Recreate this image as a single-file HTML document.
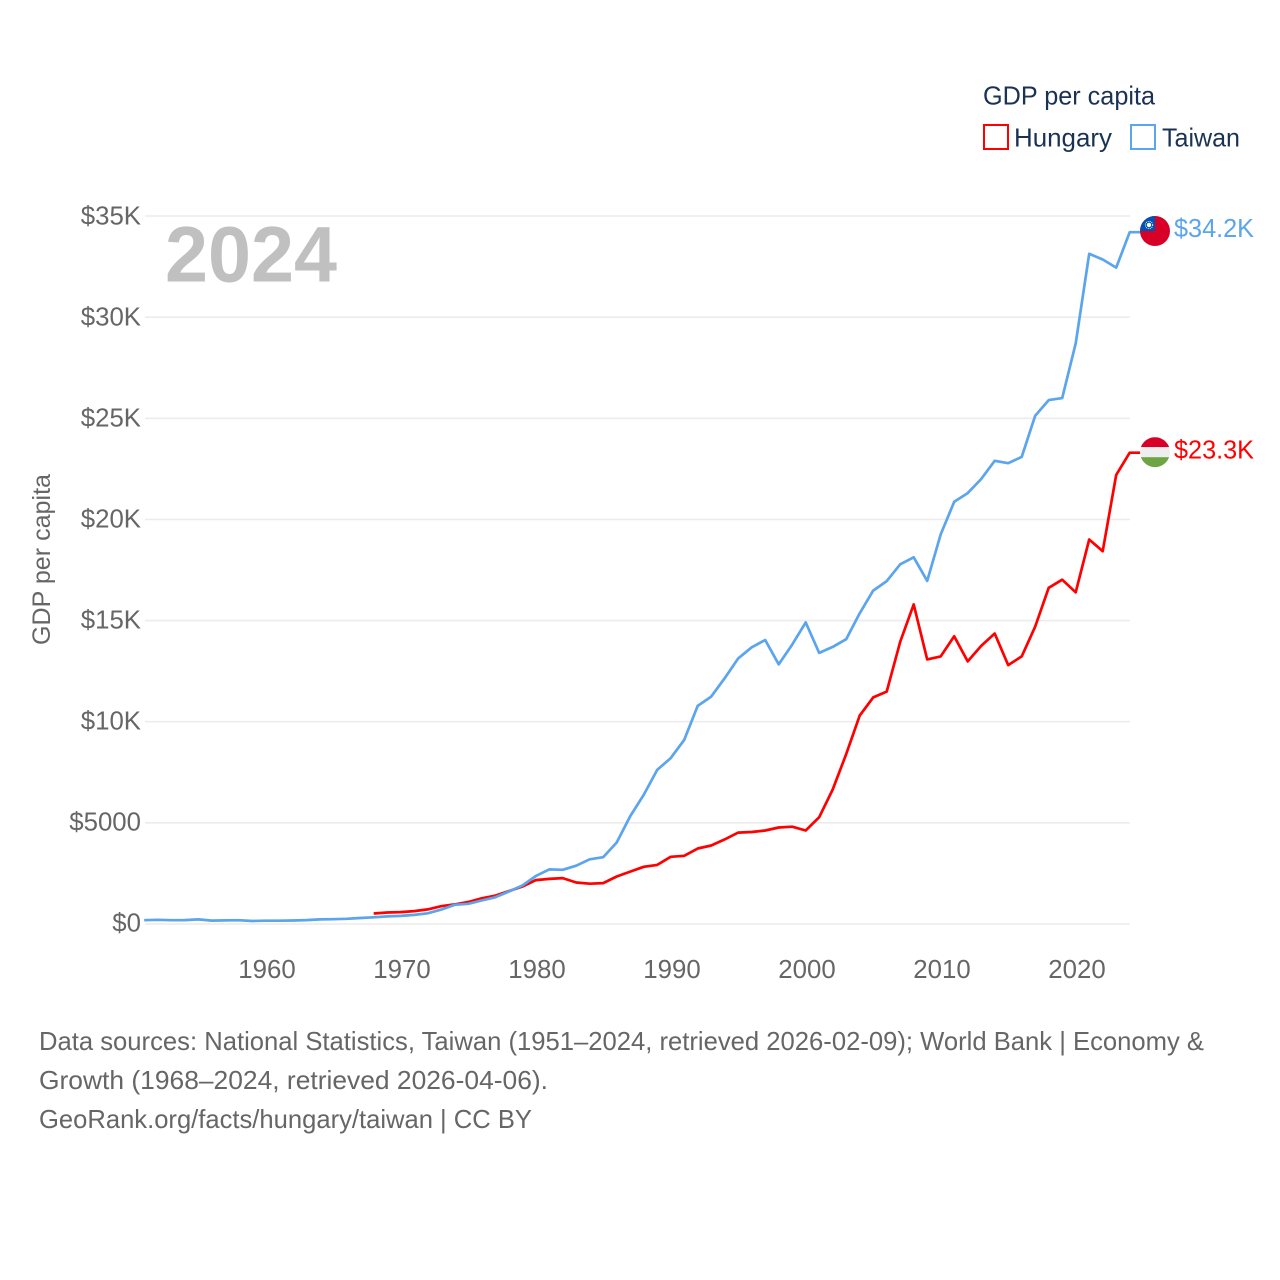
<!DOCTYPE html>
<html lang="en">
<head>
<meta charset="utf-8">
<title>GDP per capita: Hungary and Taiwan</title>
<style>
html,body{margin:0;padding:0;background:#fff;width:1280px;height:1280px;overflow:hidden}
svg{display:block;font-family:"Liberation Sans",sans-serif}
</style>
</head>
<body>
<svg id="chart" xmlns="http://www.w3.org/2000/svg" width="1280" height="1280" viewBox="0 0 1280 1280">
  <rect width="1280" height="1280" fill="#fff"/>
  <g>
    <text x="983" y="104.5" font-size="26" fill="#1a3353" textLength="172" lengthAdjust="spacingAndGlyphs">GDP per capita</text>
    <rect x="984" y="125" width="24" height="24" fill="none" stroke="#ff0000" stroke-width="2"/>
    <text x="1014" y="146.5" font-size="26" fill="#1a3353" textLength="98" lengthAdjust="spacingAndGlyphs">Hungary</text>
    <rect x="1131" y="125" width="24" height="24" fill="none" stroke="#5ba4ee" stroke-width="2"/>
    <text x="1162" y="146.5" font-size="26" fill="#1a3353" textLength="78" lengthAdjust="spacingAndGlyphs">Taiwan</text>
  </g>
  <g id="grid"></g>
  <g id="yticks"></g>
  <g id="xticks"></g>
  <text x="165" y="281.5" font-size="79" font-weight="700" fill="#c0c0c0" textLength="172" lengthAdjust="spacingAndGlyphs">2024</text>
  <text transform="translate(50,645) rotate(-90)" font-size="25" fill="#666" textLength="171" lengthAdjust="spacingAndGlyphs">GDP per capita</text>
  <g id="series"></g>
  <defs>
    <clipPath id="flag-clip-taiwan"><circle id="clip-tw" r="15"/></clipPath>
    <clipPath id="flag-clip-hungary"><circle id="clip-hu" r="15"/></clipPath>
  </defs>
  <g id="flag-taiwan">
    <g clip-path="url(#flag-clip-taiwan)">
      <rect x="-15" y="-15" width="30" height="30" fill="#d80027"/>
      <rect x="-15" y="-15" width="15" height="15" fill="#0052b4"/>
    </g>
    <circle cx="-6" cy="-6" r="2.2" fill="#fff"/>
    <circle cx="-6" cy="-6" r="3.7" fill="none" stroke="#fff" stroke-width="0.9" stroke-dasharray="1 1"/>
  </g>
  <g id="flag-hungary">
    <g clip-path="url(#flag-clip-hungary)">
      <rect x="-15" y="-15" width="30" height="10" fill="#d80027"/>
      <rect x="-15" y="-5" width="30" height="10" fill="#eeeeee"/>
      <rect x="-15" y="5" width="30" height="10" fill="#6da544"/>
    </g>
  </g>
  <g id="endlabels"></g>
  <g font-size="26" fill="#666">
    <text x="39" y="1050" textLength="1165" lengthAdjust="spacingAndGlyphs">Data sources: National Statistics, Taiwan (1951–2024, retrieved 2026-02-09); World Bank | Economy &amp;</text>
    <text x="39" y="1089" textLength="509" lengthAdjust="spacingAndGlyphs">Growth (1968–2024, retrieved 2026-04-06).</text>
    <text x="39" y="1128" textLength="493" lengthAdjust="spacingAndGlyphs">GeoRank.org/facts/hungary/taiwan | CC BY</text>
  </g>
</svg>
<script>
const taiwanStartYear = 1951;
const hungaryStartYear = 1968;
const taiwanValues = [190,210,190,195,225,170,180,190,150,165,165,175,195,225,235,255,295,330,375,400,450,530,710,950,1000,1160,1320,1600,1900,2370,2700,2680,2880,3200,3300,4030,5330,6380,7620,8200,9100,10780,11240,12150,13130,13680,14040,12840,13810,14910,13400,13700,14080,15360,16480,16950,17780,18130,16960,19260,20870,21300,22000,22900,22780,23090,25130,25900,26000,28700,33130,32850,32450,34200];
const hungaryValues = [520,570,590,640,720,880,970,1090,1270,1400,1620,1850,2170,2230,2270,2050,1990,2020,2350,2590,2830,2920,3320,3370,3730,3880,4180,4520,4550,4620,4770,4810,4620,5280,6650,8400,10300,11200,11490,13950,15800,13080,13230,14220,12980,13750,14360,12800,13230,14700,16620,17020,16400,19010,18430,22200,23300];
const yTickValues = [0,5000,10000,15000,20000,25000,30000,35000];
const yTickLabels = ["$0","$5000","$10K","$15K","$20K","$25K","$30K","$35K"];
const xTickYears = [1960,1970,1980,1990,2000,2010,2020];
const endLabelTaiwan = "$34.2K";
const endLabelHungary = "$23.3K";

const NS = "http://www.w3.org/2000/svg";
function xScale(year){ return 265.7 + (year - 1960) * 13.5; }
function yScale(value){ return 924 - value * 708 / 35000; }
function make(tag, attrs, parent, text){
  const el = document.createElementNS(NS, tag);
  for (const k in attrs) el.setAttribute(k, attrs[k]);
  if (text !== undefined) el.textContent = text;
  parent.appendChild(el);
  return el;
}
const grid = document.getElementById("grid");
const yticks = document.getElementById("yticks");
const xticks = document.getElementById("xticks");
const series = document.getElementById("series");
const endlabels = document.getElementById("endlabels");

yTickValues.forEach(function(v, i){
  const line = make("line", {x1:145, x2:1130, y1:yScale(v), y2:yScale(v), stroke:"#ececec", "stroke-width":1.6}, grid);
  
  
  const labelOffset = 7.3 + 1.2 * v / 35000;
  const label = make("text", {x:141, y:yScale(v)+labelOffset, "text-anchor":"end", "font-size":25.8, fill:"#666"}, yticks, yTickLabels[i]);
  
  
});
xTickYears.forEach(function(year){
  const label = make("text", {x:xScale(year)+1.3, y:978, "text-anchor":"middle", "font-size":25.8, fill:"#666"}, xticks, String(year));
  
  
});
function linePath(values, startYear){
  const pts = values.map(function(v, i){ return xScale(startYear + i).toFixed(1) + "," + yScale(v).toFixed(1); });
  const lastY = yScale(values[values.length - 1]).toFixed(1);
  const lastX = xScale(startYear + values.length - 1);
  pts.push((lastX + 11).toFixed(1) + "," + lastY);
  return "M" + pts.join("L");
}
const hungaryLine = make("path", {d:linePath(hungaryValues, hungaryStartYear), fill:"none", stroke:"#ff0000", "stroke-width":2.7, "stroke-linejoin":"round"}, series);


const taiwanLine = make("path", {d:linePath(taiwanValues, taiwanStartYear), fill:"none", stroke:"#5ba4ee", "stroke-width":2.7, "stroke-linejoin":"round"}, series);



const twY = yScale(taiwanValues[taiwanValues.length - 1]) - 1.2;
const huY = yScale(hungaryValues[hungaryValues.length - 1]) - 0.5;
const flagX = xScale(2024) + 25.3;
document.getElementById("flag-taiwan").setAttribute("transform", "translate(" + flagX + "," + twY + ")");
document.getElementById("flag-hungary").setAttribute("transform", "translate(" + flagX + "," + huY + ")");
const labelTw = make("text", {x:flagX+19, y:twY+5.8, "font-size":26, fill:"#5ba4ee", textLength:80, lengthAdjust:"spacingAndGlyphs"}, endlabels, endLabelTaiwan);


const labelHu = make("text", {x:flagX+19, y:huY+6.2, "font-size":26, fill:"#ff0000", textLength:80, lengthAdjust:"spacingAndGlyphs"}, endlabels, endLabelHungary);


</script>
</body>
</html>
